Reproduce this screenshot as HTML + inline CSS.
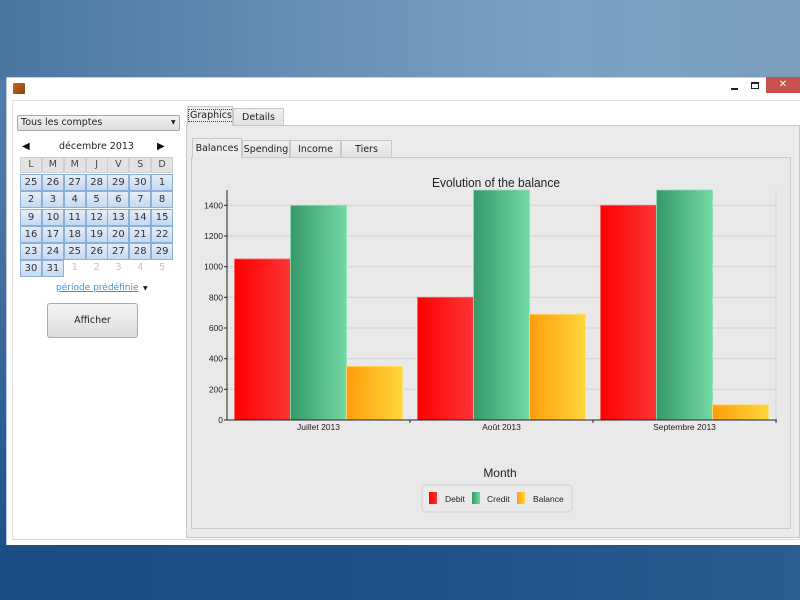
<!DOCTYPE html>
<html><head><meta charset="utf-8"><style>
*{margin:0;padding:0;box-sizing:border-box}
body{width:800px;height:600px;overflow:hidden;position:relative;font-family:"DejaVu Sans","Liberation Sans",sans-serif;background:#2a5a8e}
.abs{position:absolute}
#desk{left:0;top:0;width:800px;height:600px;background:linear-gradient(to bottom,#5680aa 0px,#4a78a6 200px,#2a5c92 450px,#1c4e86 600px)}
#desktop-top{left:0;top:0;width:800px;height:80px;background:linear-gradient(to right,#4a76a0 0%,#6a90b6 40%,#7aa0c2 70%,#7d9fbe 100%)}
#desktop-bot{left:0;top:545px;width:800px;height:55px;background:linear-gradient(to right,#1a4c85 0%,#1f5189 50%,#2b5d92 100%)}
#win{left:6px;top:77px;width:800px;height:468px;background:#fff;border-left:1px solid #b9c6d4;border-top:1px solid #c6d0dc}
.cell{position:absolute;height:17px;border:1px solid #8eb0d8;background:linear-gradient(to bottom,#e4eefa,#c4d9f1);font-size:10px;color:#333;text-align:center;line-height:15px}
.hcell{position:absolute;height:16px;border:1px solid #d0d0d0;background:#e3e3e3;font-size:9.5px;color:#444;text-align:center;line-height:14px}
.gcell{position:absolute;height:17px;font-size:10px;color:#c4c4c4;text-align:center;line-height:15px}
.tab{position:absolute;border:1px solid #c8c8c8;border-bottom:none;background:linear-gradient(to bottom,#f0f0f0,#e3e3e3);font-size:9.5px;color:#222;text-align:center}
</style></head><body>
<div class="abs" id="desk"></div>
<div class="abs" id="desktop-top"></div>
<div class="abs" id="desktop-bot"></div>

<div class="abs" id="win"></div>
<!-- title bar -->
<div class="abs" style="left:13px;top:83px;width:12px;height:11px;background:linear-gradient(135deg,#c86a24,#8a4010);border-radius:1px"></div>
<div class="abs" style="left:731px;top:88px;width:7px;height:2px;background:#222"></div>
<div class="abs" style="left:751px;top:82px;width:8px;height:7px;border:1px solid #222;border-top-width:2px"></div>
<div class="abs" style="left:766px;top:77px;width:34px;height:16px;background:#c9504b;color:#fff;font-size:10px;text-align:center;line-height:16px;font-family:'DejaVu Sans',sans-serif">✕</div>
<div class="abs" style="left:12px;top:100px;width:788px;height:1px;background:#e2e2e2"></div>
<!-- client border -->
<div class="abs" style="left:12px;top:100px;width:1px;height:440px;background:#e0e0e0"></div>
<div class="abs" style="left:12px;top:539px;width:788px;height:1px;background:#d8d8d8"></div>

<!-- left panel -->
<div class="abs" style="left:17px;top:115px;width:163px;height:16px;border:1px solid #a9a9a9;border-radius:2px;background:linear-gradient(to bottom,#f3f3f3,#dedede);font-size:9.5px;color:#222;line-height:14px;padding-left:3px">Tous les comptes</div>
<div class="abs" style="left:171px;top:119px;font-size:6px;color:#222">▼</div>

<div class="abs" style="left:22px;top:141px;font-size:10px;color:#111">◀</div>
<div class="abs" style="left:20px;top:141px;width:153px;font-size:9.5px;color:#222;text-align:center">décembre 2013</div>
<div class="abs" style="left:157px;top:141px;font-size:10px;color:#111">▶</div>

<div class="hcell" style="left:20px;top:157px;width:22px">L</div>
<div class="hcell" style="left:41.9px;top:157px;width:22px">M</div>
<div class="hcell" style="left:63.7px;top:157px;width:22px">M</div>
<div class="hcell" style="left:85.6px;top:157px;width:22px">J</div>
<div class="hcell" style="left:107.4px;top:157px;width:22px">V</div>
<div class="hcell" style="left:129.3px;top:157px;width:22px">S</div>
<div class="hcell" style="left:151.1px;top:157px;width:22px">D</div>

<div class="cell" style="left:20px;top:174px;width:22px">25</div>
<div class="cell" style="left:41.9px;top:174px;width:22px">26</div>
<div class="cell" style="left:63.7px;top:174px;width:22px">27</div>
<div class="cell" style="left:85.6px;top:174px;width:22px">28</div>
<div class="cell" style="left:107.4px;top:174px;width:22px">29</div>
<div class="cell" style="left:129.3px;top:174px;width:22px">30</div>
<div class="cell" style="left:151.1px;top:174px;width:22px">1</div>

<div class="cell" style="left:20px;top:191.2px;width:22px">2</div>
<div class="cell" style="left:41.9px;top:191.2px;width:22px">3</div>
<div class="cell" style="left:63.7px;top:191.2px;width:22px">4</div>
<div class="cell" style="left:85.6px;top:191.2px;width:22px">5</div>
<div class="cell" style="left:107.4px;top:191.2px;width:22px">6</div>
<div class="cell" style="left:129.3px;top:191.2px;width:22px">7</div>
<div class="cell" style="left:151.1px;top:191.2px;width:22px">8</div>

<div class="cell" style="left:20px;top:208.5px;width:22px">9</div>
<div class="cell" style="left:41.9px;top:208.5px;width:22px">10</div>
<div class="cell" style="left:63.7px;top:208.5px;width:22px">11</div>
<div class="cell" style="left:85.6px;top:208.5px;width:22px">12</div>
<div class="cell" style="left:107.4px;top:208.5px;width:22px">13</div>
<div class="cell" style="left:129.3px;top:208.5px;width:22px">14</div>
<div class="cell" style="left:151.1px;top:208.5px;width:22px">15</div>

<div class="cell" style="left:20px;top:225.7px;width:22px">16</div>
<div class="cell" style="left:41.9px;top:225.7px;width:22px">17</div>
<div class="cell" style="left:63.7px;top:225.7px;width:22px">18</div>
<div class="cell" style="left:85.6px;top:225.7px;width:22px">19</div>
<div class="cell" style="left:107.4px;top:225.7px;width:22px">20</div>
<div class="cell" style="left:129.3px;top:225.7px;width:22px">21</div>
<div class="cell" style="left:151.1px;top:225.7px;width:22px">22</div>

<div class="cell" style="left:20px;top:243px;width:22px">23</div>
<div class="cell" style="left:41.9px;top:243px;width:22px">24</div>
<div class="cell" style="left:63.7px;top:243px;width:22px">25</div>
<div class="cell" style="left:85.6px;top:243px;width:22px">26</div>
<div class="cell" style="left:107.4px;top:243px;width:22px">27</div>
<div class="cell" style="left:129.3px;top:243px;width:22px">28</div>
<div class="cell" style="left:151.1px;top:243px;width:22px">29</div>

<div class="cell" style="left:20px;top:260.2px;width:22px">30</div>
<div class="cell" style="left:41.9px;top:260.2px;width:22px">31</div>
<div class="gcell" style="left:63.7px;top:260.2px;width:22px">1</div>
<div class="gcell" style="left:85.6px;top:260.2px;width:22px">2</div>
<div class="gcell" style="left:107.4px;top:260.2px;width:22px">3</div>
<div class="gcell" style="left:129.3px;top:260.2px;width:22px">4</div>
<div class="gcell" style="left:151.1px;top:260.2px;width:22px">5</div>

<div class="abs" style="left:56px;top:283px;width:80px;font-size:9px;color:#3d92d8;text-decoration:underline;white-space:nowrap">période prédéfinie</div>
<div class="abs" style="left:143px;top:285px;font-size:6px;color:#222">▼</div>

<div class="abs" style="left:47px;top:303px;width:91px;height:35px;border:1px solid #acacac;border-radius:3px;background:linear-gradient(to bottom,#f4f4f4,#dcdcdc);font-size:9.5px;color:#222;text-align:center;line-height:33px">Afficher</div>

<!-- outer tab pane -->
<div class="abs" style="left:186px;top:125px;width:614px;height:413px;background:#ebebeb;border:1px solid #c8c8c8"></div>
<div class="tab" style="left:187px;top:106px;width:46px;height:20px;background:#ebebeb;line-height:18px"><span style="border:1px dotted #444;padding:0 1px">Graphics</span></div>
<div class="tab" style="left:233px;top:108px;width:51px;height:17px;line-height:17px">Details</div>

<!-- inner tab pane -->
<div class="abs" style="left:191px;top:157px;width:600px;height:372px;background:#e9e9e9;border:1px solid #cbcbcb"></div>
<div class="tab" style="left:192px;top:138px;width:50px;height:20px;background:#ececec;line-height:20px">Balances</div>
<div class="tab" style="left:242px;top:140px;width:48px;height:17px;line-height:18px">Spending</div>
<div class="tab" style="left:290px;top:140px;width:51px;height:17px;line-height:18px">Income</div>
<div class="tab" style="left:341px;top:140px;width:51px;height:17px;line-height:18px">Tiers</div>

<!-- chart -->
<svg class="abs" style="left:0;top:0" width="800" height="600" viewBox="0 0 800 600" font-family="'Liberation Sans',Arial,sans-serif">
<defs>
<linearGradient id="gr" x1="0" x2="1" y1="0" y2="0"><stop offset="0" stop-color="#ff0000"/><stop offset="1" stop-color="#fb3535"/></linearGradient>
<linearGradient id="gg" x1="0" x2="1" y1="0" y2="0"><stop offset="0" stop-color="#36996a"/><stop offset="1" stop-color="#74d8a4"/></linearGradient>
<linearGradient id="go" x1="0" x2="1" y1="0" y2="0"><stop offset="0" stop-color="#ff9e0c"/><stop offset="1" stop-color="#ffd63c"/></linearGradient>
</defs>
<text x="496" y="187" font-size="13" fill="#222" text-anchor="middle" textLength="128" lengthAdjust="spacingAndGlyphs">Evolution of the balance</text>
<g stroke="#d2d2d2" stroke-width="1">
<line x1="227" y1="389.3" x2="776" y2="389.3"/>
<line x1="227" y1="358.7" x2="776" y2="358.7"/>
<line x1="227" y1="328" x2="776" y2="328"/>
<line x1="227" y1="297.3" x2="776" y2="297.3"/>
<line x1="227" y1="266.7" x2="776" y2="266.7"/>
<line x1="227" y1="236" x2="776" y2="236"/>
<line x1="227" y1="205.3" x2="776" y2="205.3"/>
<line x1="776" y1="190" x2="776" y2="420"/>
</g>
<!-- bars -->
<g stroke-width="0.8">
<rect x="234.5" y="259" width="56" height="161" fill="url(#gr)" stroke="#ff6060"/>
<rect x="290.5" y="205.3" width="56" height="214.7" fill="url(#gg)" stroke="#8ee0b4"/>
<rect x="346.5" y="366.3" width="56" height="53.7" fill="url(#go)" stroke="#ffe07a"/>
<rect x="417.5" y="297.3" width="56" height="122.7" fill="url(#gr)" stroke="#ff6060"/>
<rect x="473.5" y="190" width="56" height="230" fill="url(#gg)" stroke="#8ee0b4"/>
<rect x="529.5" y="314.2" width="56" height="105.8" fill="url(#go)" stroke="#ffe07a"/>
<rect x="600.5" y="205.3" width="56" height="214.7" fill="url(#gr)" stroke="#ff6060"/>
<rect x="656.5" y="190" width="56" height="230" fill="url(#gg)" stroke="#8ee0b4"/>
<rect x="712.5" y="404.7" width="56" height="15.3" fill="url(#go)" stroke="#ffe07a"/>
</g>
<g stroke="#222" stroke-width="1">
<line x1="227" y1="190" x2="227" y2="420.5"/>
<line x1="227" y1="420" x2="777" y2="420"/>
<line x1="410" y1="420" x2="410" y2="423"/>
<line x1="593" y1="420" x2="593" y2="423"/>
<line x1="776" y1="420" x2="776" y2="423"/>
<line x1="224" y1="420" x2="227" y2="420"/>
<line x1="224" y1="389.3" x2="227" y2="389.3"/>
<line x1="224" y1="358.7" x2="227" y2="358.7"/>
<line x1="224" y1="328" x2="227" y2="328"/>
<line x1="224" y1="297.3" x2="227" y2="297.3"/>
<line x1="224" y1="266.7" x2="227" y2="266.7"/>
<line x1="224" y1="236" x2="227" y2="236"/>
<line x1="224" y1="205.3" x2="227" y2="205.3"/>
</g>
<g font-size="8.5" fill="#222" text-anchor="end">
<text x="223" y="423">0</text>
<text x="223" y="392.3">200</text>
<text x="223" y="361.7">400</text>
<text x="223" y="331">600</text>
<text x="223" y="300.3">800</text>
<text x="223" y="269.7">1000</text>
<text x="223" y="239">1200</text>
<text x="223" y="208.3">1400</text>
</g>
<g font-size="8.5" fill="#222" text-anchor="middle">
<text x="318.5" y="430">Juillet 2013</text>
<text x="501.5" y="430">Août 2013</text>
<text x="684.5" y="430">Septembre 2013</text>
</g>
<text x="500" y="477" font-size="12" fill="#222" text-anchor="middle">Month</text>
<rect x="422" y="485" width="150" height="27" rx="4" fill="#eaeaea" stroke="#d2d2d2"/>
<rect x="429" y="492" width="8" height="12" fill="url(#gr)"/>
<rect x="472" y="492" width="8" height="12" fill="url(#gg)"/>
<rect x="517" y="492" width="8" height="12" fill="url(#go)"/>
<g font-size="8.5" fill="#222">
<text x="445" y="502">Debit</text>
<text x="487" y="502">Credit</text>
<text x="533" y="502">Balance</text>
</g>
</svg>
</body></html>
